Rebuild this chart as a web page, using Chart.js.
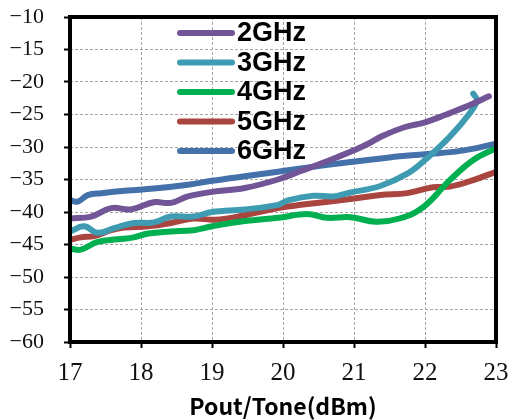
<!DOCTYPE html>
<html>
<head>
<meta charset="utf-8">
<script src="https://cdn.jsdelivr.net/npm/chart.js@4/dist/chart.umd.min.js"></script>
<style>
  html, body { margin: 0; padding: 0; background: #fff; }
  #wrap { width: 512px; height: 420px; }
</style>
</head>
<body>
<div id="wrap"><canvas id="imdChart" width="512" height="420"></canvas></div>
<script>
// Pout/Tone (dBm) vs IMD, one x/y pair of arrays per frequency
const labels = ['2GHz', '3GHz', '4GHz', '5GHz', '6GHz'];
const colors = ['#715596', '#3e9bb2', '#00b050', '#a9443f', '#4471a9'];

const x2 = [17, 17.3, 17.58, 17.86, 18.18, 18.42, 18.66, 19, 19.46, 19.93, 20.25, 20.5, 20.8, 21, 21.2, 21.4, 21.7, 22, 22.3, 22.6, 22.9];
const y2 = [-41.0, -40.7, -39.4, -39.6, -38.5, -38.6, -37.6, -36.9, -36.3, -35.0, -33.7, -32.7, -31.4, -30.5, -29.5, -28.3, -27.0, -26.2, -25.0, -23.7, -22.2];

const x3 = [17, 17.2, 17.39, 17.62, 17.9, 18.18, 18.42, 18.74, 19, 19.46, 19.93, 20.07, 20.43, 20.71, 20.95, 21.37, 21.75, 22, 22.35, 22.63, 22.73, 22.68];
const y3 = [-43.0, -42.2, -43.2, -42.5, -41.7, -41.6, -40.7, -40.7, -40.0, -39.6, -38.9, -38.2, -37.5, -37.6, -37.0, -36.0, -34.1, -32.0, -28.4, -24.8, -22.8, -21.8];

const x4 = [17, 17.15, 17.39, 17.67, 17.9, 18.1, 18.42, 18.74, 19, 19.46, 19.93, 20.34, 20.62, 20.95, 21.31, 21.64, 21.97, 22.35, 22.68, 23];
const y4 = [-45.6, -45.8, -44.6, -44.2, -43.9, -43.3, -43.0, -42.8, -42.2, -41.4, -40.9, -40.3, -40.9, -40.8, -41.5, -41.0, -39.3, -35.1, -32.0, -30.2];

const x5 = [17, 17.15, 17.34, 17.58, 17.76, 18.1, 18.42, 18.74, 19.05, 19.46, 19.93, 20.25, 20.95, 21.37, 21.75, 22.11, 22.35, 22.68, 23];
const y5 = [-44.3, -43.9, -43.7, -42.8, -42.4, -42.2, -41.7, -41.0, -41.2, -40.5, -39.4, -38.9, -38.0, -37.4, -37.1, -36.2, -36.1, -35.1, -33.8];

const x6 = [17, 17.11, 17.25, 17.44, 17.81, 18.18, 18.66, 19, 19.46, 19.93, 20.25, 20.95, 21.5, 22, 22.5, 23];
const y6 = [-38.2, -38.4, -37.4, -37.1, -36.7, -36.4, -35.8, -35.2, -34.5, -33.8, -33.3, -32.3, -31.6, -31.1, -30.6, -29.5];

const xTicks = [17, 18, 19, 20, 21, 22, 23];
const yTicks = [-60, -55, -50, -45, -40, -35, -30, -25, -20, -15, -10];

const seriesX = [x2, x3, x4, x5, x6];
const seriesY = [y2, y3, y4, y5, y6];

const toPoints = (xs, ys) => xs.map((x, i) => ({ x: x, y: ys[i] }));

// black frame round the plot + legend drawn inside the plot area
const framePlugin = {
  id: 'frameAndLegend',
  afterDatasetsDraw(chart) {
    const { ctx, chartArea: a } = chart;
    ctx.save();
    ctx.strokeStyle = '#000';
    ctx.lineWidth = 4;
    ctx.strokeRect(a.left, a.top, a.right - a.left, a.bottom - a.top);

    ctx.lineCap = 'round';
    ctx.lineWidth = 6;
    ctx.font = 'bold 27px "Liberation Sans", Arial, sans-serif';
    ctx.textBaseline = 'middle';
    ctx.fillStyle = '#000';
    chart.data.datasets.forEach((ds, i) => {
      const y = 33 + i * 29.5;
      ctx.strokeStyle = ds.borderColor;
      ctx.beginPath();
      ctx.moveTo(180, y);
      ctx.lineTo(232, y);
      ctx.stroke();
      ctx.fillText(ds.label, 237, y + 1);
    });
    ctx.restore();
  }
};

const ctx = document.getElementById('imdChart');
new Chart(ctx, {
  type: 'scatter',
  data: {
    datasets: labels.map((name, i) => ({
      label: name,
      data: toPoints(seriesX[i], seriesY[i]),
      showLine: true,
      borderColor: colors[i],
      backgroundColor: colors[i],
      borderWidth: 6,
      pointRadius: 0,
      tension: 0.4,
      borderCapStyle: 'round',
      borderJoinStyle: 'round'
    }))
  },
  options: {
    responsive: false,
    animation: false,
    layout: { padding: { top: 17, right: 16, left: 0, bottom: 0 } },
    plugins: {
      legend: { display: false },
      tooltip: { enabled: false }
    },
    scales: {
      x: {
        type: 'linear',
        min: 17,
        max: 23,
        afterBuildTicks: (scale) => { scale.ticks = xTicks.map(v => ({ value: v })); },
        afterFit: (scale) => {
          scale.height = 78;
          scale.paddingLeft = 0;
          scale.paddingRight = 0;
        },
        ticks: {
          color: '#111',
          padding: 10,
          font: { family: '"Liberation Serif", "Times New Roman", serif', size: 25 },
          callback: (v) => String(v)
        },
        grid: { color: '#a6a6a6', lineWidth: 1, tickColor: '#000', tickLength: 6, tickWidth: 2 },
        border: { display: false, dash: [3, 2] },
        title: {
          display: true,
          text: 'Pout/Tone(dBm)',
          color: '#000',
          padding: { top: 4, bottom: 0 },
          font: { family: '"Noto Sans CJK SC", sans-serif', size: 23, weight: 'bold' }
        }
      },
      y: {
        min: -60,
        max: -10,
        afterBuildTicks: (scale) => { scale.ticks = yTicks.map(v => ({ value: v })); },
        afterFit: (scale) => {
          scale.width = 70;
          scale.paddingTop = 0;
          scale.paddingBottom = 0;
        },
        ticks: {
          color: '#111',
          padding: 20,
          font: { family: '"Liberation Serif", "Times New Roman", serif', size: 22 },
          callback: (v) => (v < 0 ? '\u2212' + Math.abs(v) : String(v))
        },
        grid: { color: '#a6a6a6', lineWidth: 1, tickColor: '#000', tickLength: 6, tickWidth: 2 },
        border: { display: false, dash: [3, 2] }
      }
    }
  },
  plugins: [framePlugin]
});
</script>
</body>
</html>
